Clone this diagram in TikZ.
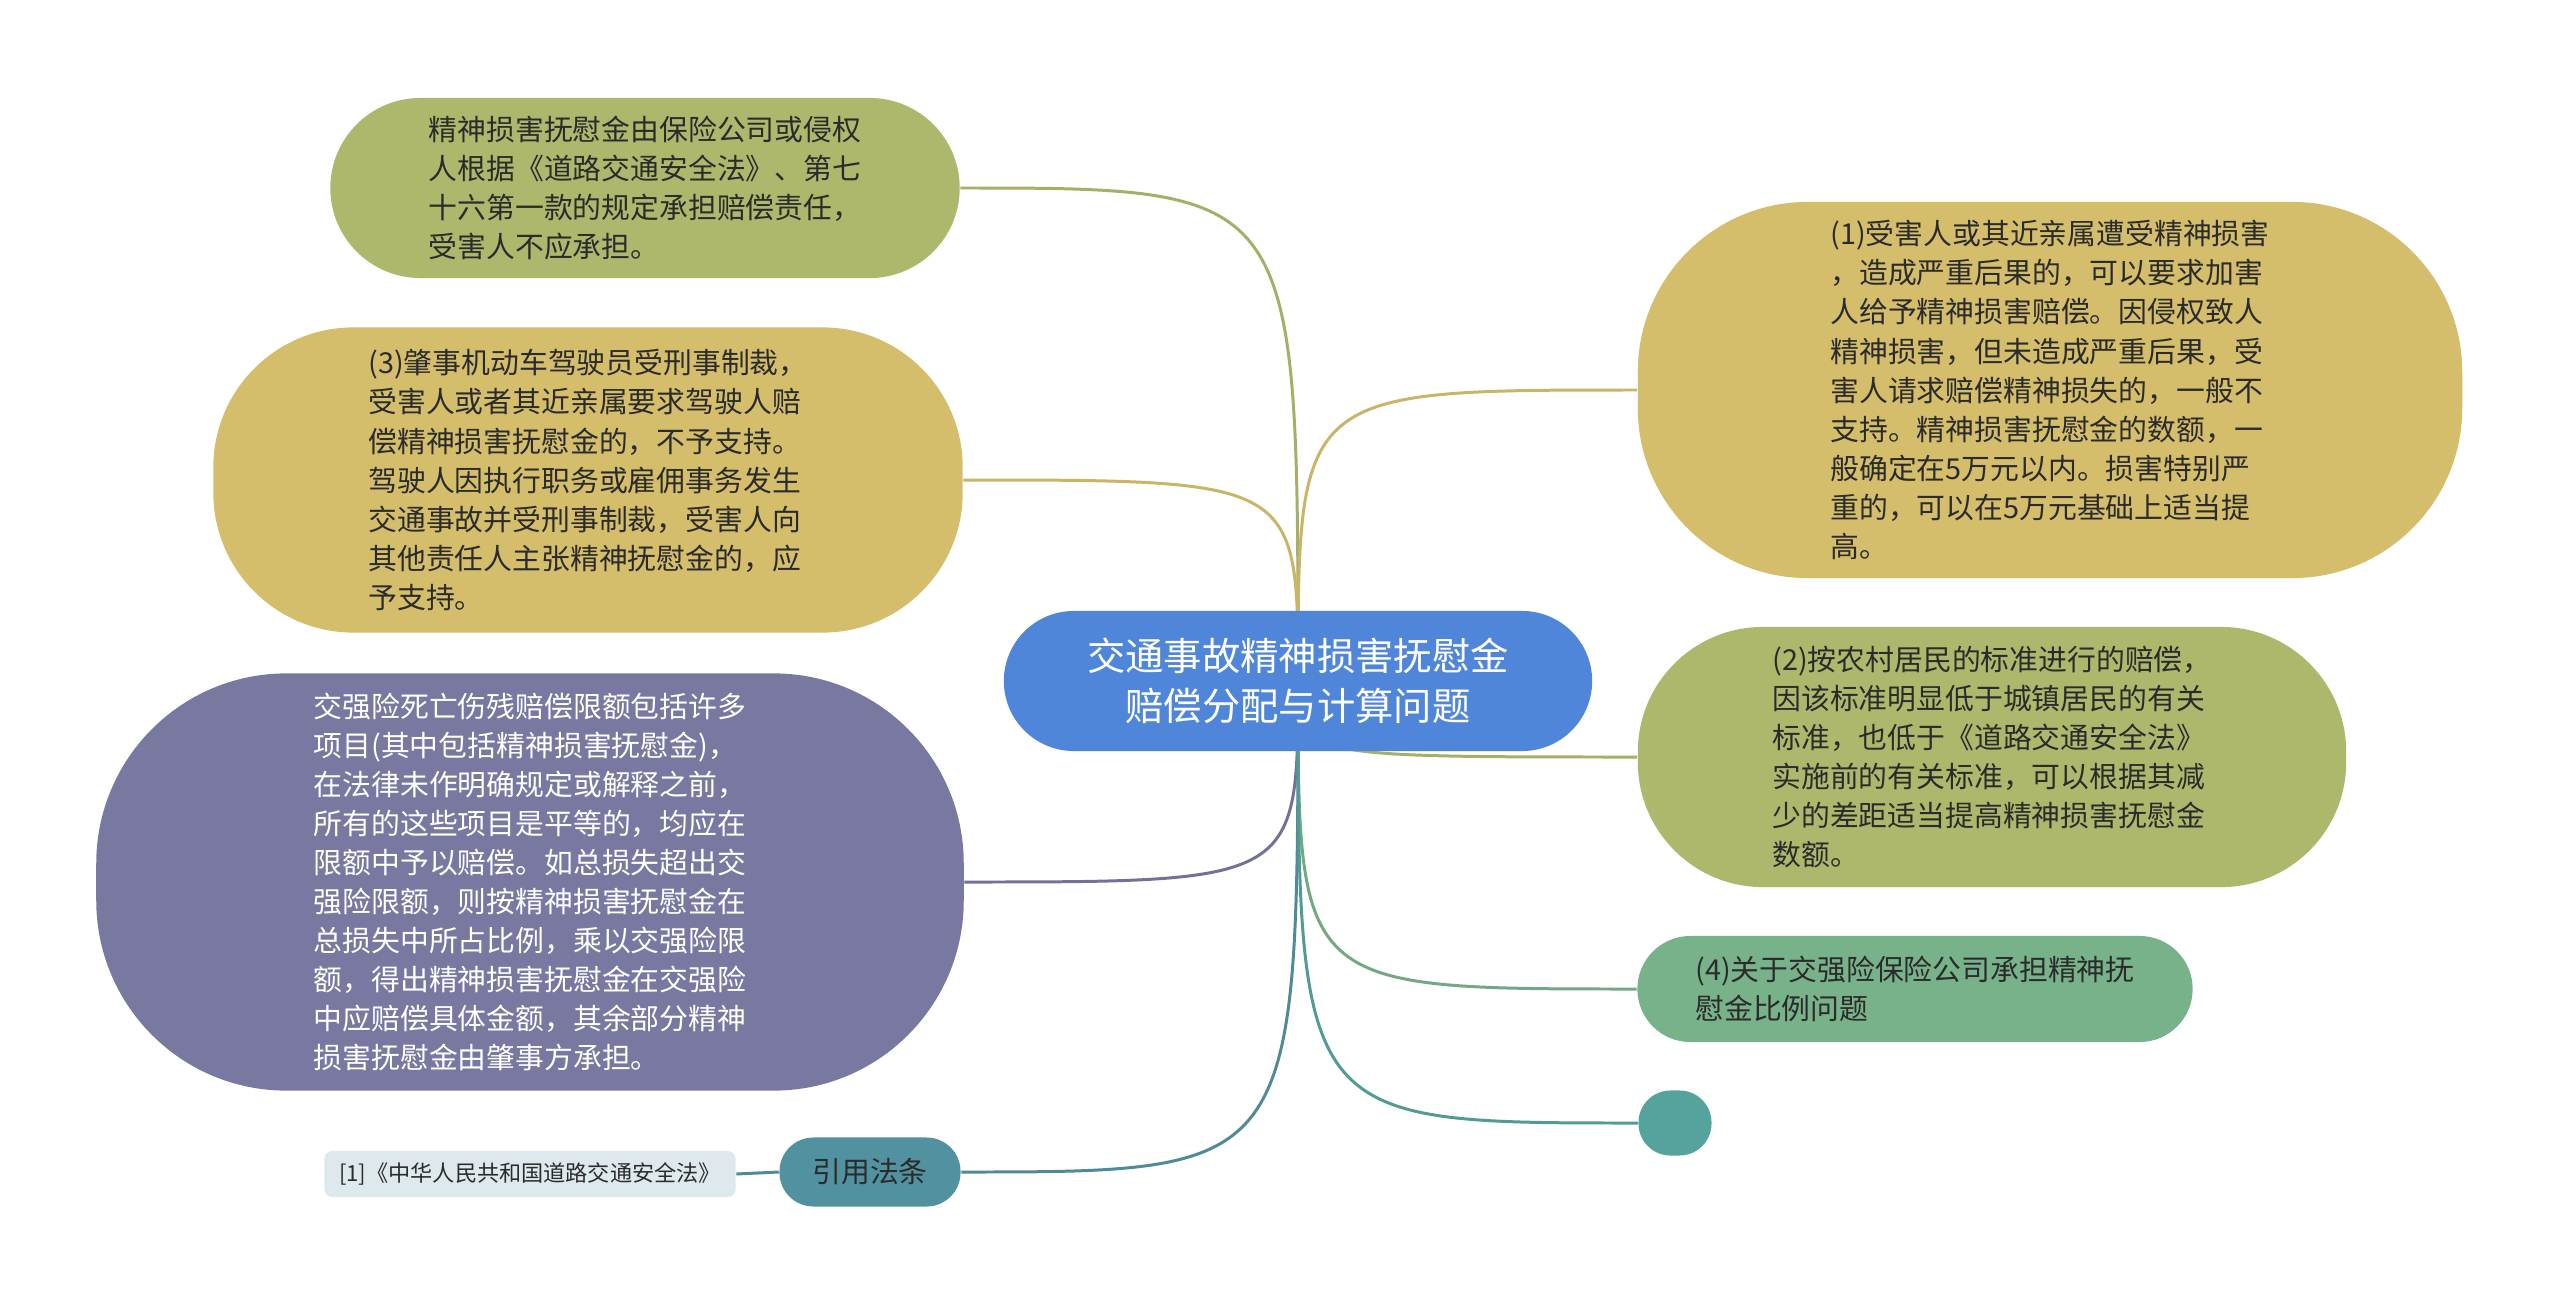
\documentclass[tikz,border=0pt]{standalone}
\usepackage{fontspec}
\setmainfont{Noto Sans CJK SC}
\usetikzlibrary{backgrounds}

% 配色
\definecolor{olivefill}{HTML}{AEB86C}
\definecolor{goldfill}{HTML}{D4BE6C}
\definecolor{purplefill}{HTML}{7878A0}
\definecolor{bluefill}{HTML}{5086D9}
\definecolor{greenfill}{HTML}{78B28A}
\definecolor{tealfill}{HTML}{54A39C}
\definecolor{reffill}{HTML}{5291A0}
\definecolor{leaffill}{HTML}{DDE9EC}
\definecolor{txtdark}{HTML}{2B2B2B}

\newcommand\bodyfont{\fontsize{8.2}{11.1}\selectfont}
\newcommand\rootfont{\fontsize{10.9}{14.3}\selectfont}
\newcommand\leaffont{\fontsize{6.3}{8}\selectfont}

\tikzset{
  bubble/.style args={#1/#2/#3}{inner sep=0pt, align=left, text=txtdark,
    font=\bodyfont, minimum width=#1cm, minimum height=#2cm, rounded corners=#3cm},
  edge/.style={line width=0.85pt},
}

\begin{document}
\begin{tikzpicture}[x=0.01cm, y=-0.01cm]
  % 画布 (2560 x 1303)
  \useasboundingbox (0,0) rectangle (2560,1303);

  % 中心主题
  \node[bubble=5.88/1.40/0.70, fill=bluefill, text=white, align=center, font=\rootfont]
    (root) at (1298,681) {交通事故精神损害抚慰金\\赔偿分配与计算问题};

  % 左侧分支
  \node[bubble=6.29/1.80/0.90, fill=olivefill] (insur) at (645,188)
    {精神损害抚慰金由保险公司或侵权\\人根据《道路交通安全法》、第七\\十六第一款的规定承担赔偿责任，\\受害人不应承担。};
  \node[bubble=7.49/3.05/1.40, fill=goldfill] (crim) at (588,480)
    {(3)肇事机动车驾驶员受刑事制裁，\\受害人或者其近亲属要求驾驶人赔\\偿精神损害抚慰金的，不予支持。\\驾驶人因执行职务或雇佣事务发生\\交通事故并受刑事制裁，受害人向\\其他责任人主张精神抚慰金的，应\\予支持。};
  \node[bubble=8.67/4.17/1.90, fill=purplefill, text=white] (limit) at (530,882)
    {交强险死亡伤残赔偿限额包括许多\\项目(其中包括精神损害抚慰金)，\\在法律未作明确规定或解释之前，\\所有的这些项目是平等的，均应在\\限额中予以赔偿。如总损失超出交\\强险限额，则按精神损害抚慰金在\\总损失中所占比例，乘以交强险限\\额，得出精神损害抚慰金在交强险\\中应赔偿具体金额，其余部分精神\\损害抚慰金由肇事方承担。};
  \node[bubble=1.81/0.69/0.34, fill=reffill, align=center] (law) at (870,1172) {引用法条};
  \node[bubble=4.11/0.46/0.08, fill=leaffill, font=\leaffont] (lawitem) at (530,1174)
    {[1]《中华人民共和国道路交通安全法》};

  % 右侧分支
  \node[bubble=8.24/3.76/1.70, fill=goldfill] (serious) at (2050,390)
    {(1)受害人或其近亲属遭受精神损害\\，造成严重后果的，可以要求加害\\人给予精神损害赔偿。因侵权致人\\精神损害，但未造成严重后果，受\\害人请求赔偿精神损失的，一般不\\支持。精神损害抚慰金的数额，一\\般确定在5万元以内。损害特别严\\重的，可以在5万元基础上适当提\\高。};
  \node[bubble=7.08/2.60/1.25, fill=olivefill] (rural) at (1992,757)
    {(2)按农村居民的标准进行的赔偿，\\因该标准明显低于城镇居民的有关\\标准，也低于《道路交通安全法》\\实施前的有关标准，可以根据其减\\少的差距适当提高精神损害抚慰金\\数额。};
  \node[bubble=5.55/1.06/0.53, fill=greenfill] (ratio) at (1915,989)
    {(4)关于交强险保险公司承担精神抚\\慰金比例问题};
  \node[bubble=0.73/0.65/0.32, fill=tealfill] (blank) at (1675,1123) {};

  % 连线
  \begin{scope}[on background layer]
    \fill[white] (0,0) rectangle (2560,1303);
    \draw[edge, draw=olivefill!95!black] (root.center) .. controls (root.center |- insur.east) .. (insur.east);
    \draw[edge, draw=goldfill!95!black] (root.center) .. controls (root.center |- crim.east) .. (crim.east);
    \draw[edge, draw=purplefill!95!black] (root.center) .. controls (root.center |- limit.east) .. (limit.east);
    \draw[edge, draw=reffill!95!black] (root.center) .. controls (root.center |- law.east) .. (law.east);
    \draw[edge, draw=reffill!95!black] (law.west) -- (lawitem.east);
    \draw[edge, draw=goldfill!95!black] (root.center) .. controls (root.center |- serious.west) .. (serious.west);
    \draw[edge, draw=olivefill!95!black] (root.center) .. controls (root.center |- rural.west) .. (rural.west);
    \draw[edge, draw=greenfill!95!black] (root.center) .. controls (root.center |- ratio.west) .. (ratio.west);
    \draw[edge, draw=tealfill!95!black] (root.center) .. controls (root.center |- blank.west) .. (blank.west);
  \end{scope}
\end{tikzpicture}
\end{document}
